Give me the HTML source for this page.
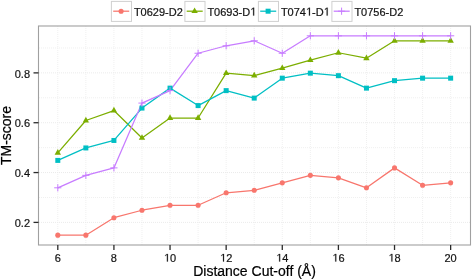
<!DOCTYPE html><html><head><meta charset="utf-8"><style>html,body{margin:0;padding:0;background:#fff;}svg{display:block;filter:blur(0.35px);}text{font-family:"Liberation Sans",sans-serif;stroke:#000;stroke-width:0.2px;}</style></head><body>
<svg width="472" height="280" viewBox="0 0 472 280">
<rect width="472" height="280" fill="#fff"/>
<line x1="85.86" y1="26.0" x2="85.86" y2="245.0" stroke="#f0f0f0" stroke-width="1" stroke-dasharray="1 1"/>
<line x1="141.98" y1="26.0" x2="141.98" y2="245.0" stroke="#f0f0f0" stroke-width="1" stroke-dasharray="1 1"/>
<line x1="198.10" y1="26.0" x2="198.10" y2="245.0" stroke="#f0f0f0" stroke-width="1" stroke-dasharray="1 1"/>
<line x1="254.22" y1="26.0" x2="254.22" y2="245.0" stroke="#f0f0f0" stroke-width="1" stroke-dasharray="1 1"/>
<line x1="310.34" y1="26.0" x2="310.34" y2="245.0" stroke="#f0f0f0" stroke-width="1" stroke-dasharray="1 1"/>
<line x1="366.46" y1="26.0" x2="366.46" y2="245.0" stroke="#f0f0f0" stroke-width="1" stroke-dasharray="1 1"/>
<line x1="422.58" y1="26.0" x2="422.58" y2="245.0" stroke="#f0f0f0" stroke-width="1" stroke-dasharray="1 1"/>
<line x1="39" y1="197.48" x2="470.5" y2="197.48" stroke="#f0f0f0" stroke-width="1" stroke-dasharray="1 1"/>
<line x1="39" y1="147.64" x2="470.5" y2="147.64" stroke="#f0f0f0" stroke-width="1" stroke-dasharray="1 1"/>
<line x1="39" y1="97.80" x2="470.5" y2="97.80" stroke="#f0f0f0" stroke-width="1" stroke-dasharray="1 1"/>
<line x1="39" y1="47.96" x2="470.5" y2="47.96" stroke="#f0f0f0" stroke-width="1" stroke-dasharray="1 1"/>
<line x1="57.80" y1="26.0" x2="57.80" y2="245.0" stroke="#f0f0f0" stroke-width="1" stroke-dasharray="1 1"/>
<line x1="113.92" y1="26.0" x2="113.92" y2="245.0" stroke="#f0f0f0" stroke-width="1" stroke-dasharray="1 1"/>
<line x1="170.04" y1="26.0" x2="170.04" y2="245.0" stroke="#f0f0f0" stroke-width="1" stroke-dasharray="1 1"/>
<line x1="226.16" y1="26.0" x2="226.16" y2="245.0" stroke="#f0f0f0" stroke-width="1" stroke-dasharray="1 1"/>
<line x1="282.28" y1="26.0" x2="282.28" y2="245.0" stroke="#f0f0f0" stroke-width="1" stroke-dasharray="1 1"/>
<line x1="338.40" y1="26.0" x2="338.40" y2="245.0" stroke="#f0f0f0" stroke-width="1" stroke-dasharray="1 1"/>
<line x1="394.52" y1="26.0" x2="394.52" y2="245.0" stroke="#f0f0f0" stroke-width="1" stroke-dasharray="1 1"/>
<line x1="450.64" y1="26.0" x2="450.64" y2="245.0" stroke="#f0f0f0" stroke-width="1" stroke-dasharray="1 1"/>
<line x1="39" y1="222.40" x2="470.5" y2="222.40" stroke="#ebebeb" stroke-width="1" stroke-dasharray="1 1"/>
<line x1="39" y1="172.56" x2="470.5" y2="172.56" stroke="#ebebeb" stroke-width="1" stroke-dasharray="1 1"/>
<line x1="39" y1="122.72" x2="470.5" y2="122.72" stroke="#ebebeb" stroke-width="1" stroke-dasharray="1 1"/>
<line x1="39" y1="72.88" x2="470.5" y2="72.88" stroke="#ebebeb" stroke-width="1" stroke-dasharray="1 1"/>
<polyline points="57.80,235.16 85.86,235.16 113.92,217.72 141.98,210.24 170.04,205.26 198.10,205.26 226.16,192.80 254.22,190.30 282.28,182.83 310.34,175.35 338.40,177.84 366.46,187.81 394.52,167.88 422.58,185.32 450.64,182.83" fill="none" stroke="#F8766D" stroke-width="1.25" stroke-linejoin="round"/>
<polyline points="57.80,152.92 85.86,120.53 113.92,110.56 141.98,137.97 170.04,118.04 198.10,118.04 226.16,73.18 254.22,75.67 282.28,68.20 310.34,60.22 338.40,52.75 366.46,58.23 394.52,40.78 422.58,40.78 450.64,40.78" fill="none" stroke="#7CAE00" stroke-width="1.25" stroke-linejoin="round"/>
<polyline points="57.80,160.40 85.86,147.94 113.92,140.46 141.98,108.07 170.04,88.13 198.10,105.58 226.16,90.62 254.22,98.10 282.28,78.16 310.34,73.18 338.40,75.67 366.46,88.13 394.52,80.66 422.58,78.16 450.64,78.16" fill="none" stroke="#00BFC4" stroke-width="1.25" stroke-linejoin="round"/>
<polyline points="57.80,187.81 85.86,175.35 113.92,167.88 141.98,103.08 170.04,90.62 198.10,53.24 226.16,45.77 254.22,40.78 282.28,53.24 310.34,35.80 338.40,35.80 366.46,35.80 394.52,35.80 422.58,35.80 450.64,35.80" fill="none" stroke="#C77CFF" stroke-width="1.25" stroke-linejoin="round"/>
<circle cx="57.80" cy="235.16" r="2.55" fill="#F8766D"/>
<circle cx="85.86" cy="235.16" r="2.55" fill="#F8766D"/>
<circle cx="113.92" cy="217.72" r="2.55" fill="#F8766D"/>
<circle cx="141.98" cy="210.24" r="2.55" fill="#F8766D"/>
<circle cx="170.04" cy="205.26" r="2.55" fill="#F8766D"/>
<circle cx="198.10" cy="205.26" r="2.55" fill="#F8766D"/>
<circle cx="226.16" cy="192.80" r="2.55" fill="#F8766D"/>
<circle cx="254.22" cy="190.30" r="2.55" fill="#F8766D"/>
<circle cx="282.28" cy="182.83" r="2.55" fill="#F8766D"/>
<circle cx="310.34" cy="175.35" r="2.55" fill="#F8766D"/>
<circle cx="338.40" cy="177.84" r="2.55" fill="#F8766D"/>
<circle cx="366.46" cy="187.81" r="2.55" fill="#F8766D"/>
<circle cx="394.52" cy="167.88" r="2.55" fill="#F8766D"/>
<circle cx="422.58" cy="185.32" r="2.55" fill="#F8766D"/>
<circle cx="450.64" cy="182.83" r="2.55" fill="#F8766D"/>
<path d="M54.60,154.82L61.00,154.82L57.80,149.12Z" fill="#7CAE00"/>
<path d="M82.66,122.43L89.06,122.43L85.86,116.73Z" fill="#7CAE00"/>
<path d="M110.72,112.46L117.12,112.46L113.92,106.76Z" fill="#7CAE00"/>
<path d="M138.78,139.87L145.18,139.87L141.98,134.17Z" fill="#7CAE00"/>
<path d="M166.84,119.94L173.24,119.94L170.04,114.24Z" fill="#7CAE00"/>
<path d="M194.90,119.94L201.30,119.94L198.10,114.24Z" fill="#7CAE00"/>
<path d="M222.96,75.08L229.36,75.08L226.16,69.38Z" fill="#7CAE00"/>
<path d="M251.02,77.57L257.42,77.57L254.22,71.87Z" fill="#7CAE00"/>
<path d="M279.08,70.10L285.48,70.10L282.28,64.40Z" fill="#7CAE00"/>
<path d="M307.14,62.12L313.54,62.12L310.34,56.42Z" fill="#7CAE00"/>
<path d="M335.20,54.65L341.60,54.65L338.40,48.95Z" fill="#7CAE00"/>
<path d="M363.26,60.13L369.66,60.13L366.46,54.43Z" fill="#7CAE00"/>
<path d="M391.32,42.68L397.72,42.68L394.52,36.98Z" fill="#7CAE00"/>
<path d="M419.38,42.68L425.78,42.68L422.58,36.98Z" fill="#7CAE00"/>
<path d="M447.44,42.68L453.84,42.68L450.64,36.98Z" fill="#7CAE00"/>
<rect x="55.30" y="157.90" width="5.00" height="5.00" fill="#00BFC4"/>
<rect x="83.36" y="145.44" width="5.00" height="5.00" fill="#00BFC4"/>
<rect x="111.42" y="137.96" width="5.00" height="5.00" fill="#00BFC4"/>
<rect x="139.48" y="105.57" width="5.00" height="5.00" fill="#00BFC4"/>
<rect x="167.54" y="85.63" width="5.00" height="5.00" fill="#00BFC4"/>
<rect x="195.60" y="103.08" width="5.00" height="5.00" fill="#00BFC4"/>
<rect x="223.66" y="88.12" width="5.00" height="5.00" fill="#00BFC4"/>
<rect x="251.72" y="95.60" width="5.00" height="5.00" fill="#00BFC4"/>
<rect x="279.78" y="75.66" width="5.00" height="5.00" fill="#00BFC4"/>
<rect x="307.84" y="70.68" width="5.00" height="5.00" fill="#00BFC4"/>
<rect x="335.90" y="73.17" width="5.00" height="5.00" fill="#00BFC4"/>
<rect x="363.96" y="85.63" width="5.00" height="5.00" fill="#00BFC4"/>
<rect x="392.02" y="78.16" width="5.00" height="5.00" fill="#00BFC4"/>
<rect x="420.08" y="75.66" width="5.00" height="5.00" fill="#00BFC4"/>
<rect x="448.14" y="75.66" width="5.00" height="5.00" fill="#00BFC4"/>
<path d="M54.20,187.81H61.40M57.80,184.21V191.41" stroke="#C77CFF" stroke-width="1.0" fill="none"/>
<path d="M82.26,175.35H89.46M85.86,171.75V178.95" stroke="#C77CFF" stroke-width="1.0" fill="none"/>
<path d="M110.32,167.88H117.52M113.92,164.28V171.48" stroke="#C77CFF" stroke-width="1.0" fill="none"/>
<path d="M138.38,103.08H145.58M141.98,99.48V106.68" stroke="#C77CFF" stroke-width="1.0" fill="none"/>
<path d="M166.44,90.62H173.64M170.04,87.02V94.22" stroke="#C77CFF" stroke-width="1.0" fill="none"/>
<path d="M194.50,53.24H201.70M198.10,49.64V56.84" stroke="#C77CFF" stroke-width="1.0" fill="none"/>
<path d="M222.56,45.77H229.76M226.16,42.17V49.37" stroke="#C77CFF" stroke-width="1.0" fill="none"/>
<path d="M250.62,40.78H257.82M254.22,37.18V44.38" stroke="#C77CFF" stroke-width="1.0" fill="none"/>
<path d="M278.68,53.24H285.88M282.28,49.64V56.84" stroke="#C77CFF" stroke-width="1.0" fill="none"/>
<path d="M306.74,35.80H313.94M310.34,32.20V39.40" stroke="#C77CFF" stroke-width="1.0" fill="none"/>
<path d="M334.80,35.80H342.00M338.40,32.20V39.40" stroke="#C77CFF" stroke-width="1.0" fill="none"/>
<path d="M362.86,35.80H370.06M366.46,32.20V39.40" stroke="#C77CFF" stroke-width="1.0" fill="none"/>
<path d="M390.92,35.80H398.12M394.52,32.20V39.40" stroke="#C77CFF" stroke-width="1.0" fill="none"/>
<path d="M418.98,35.80H426.18M422.58,32.20V39.40" stroke="#C77CFF" stroke-width="1.0" fill="none"/>
<path d="M447.04,35.80H454.24M450.64,32.20V39.40" stroke="#C77CFF" stroke-width="1.0" fill="none"/>
<rect x="38.5" y="26.0" width="432.0" height="219.0" fill="none" stroke="#a0a0a0" stroke-width="1.1"/>
<line x1="57.80" y1="245.0" x2="57.80" y2="250.0" stroke="#2a2a2a" stroke-width="1.3"/>
<text class="m" x="57.80" y="261.5" font-size="11" text-anchor="middle" fill="#1a1a1a">6</text>
<line x1="113.92" y1="245.0" x2="113.92" y2="250.0" stroke="#2a2a2a" stroke-width="1.3"/>
<text class="m" x="113.92" y="261.5" font-size="11" text-anchor="middle" fill="#1a1a1a">8</text>
<line x1="170.04" y1="245.0" x2="170.04" y2="250.0" stroke="#2a2a2a" stroke-width="1.3"/>
<text class="m" x="170.04" y="261.5" font-size="11" text-anchor="middle" fill="#1a1a1a"><tspan style="fill:none;stroke:none">1</tspan>0</text>
<line x1="226.16" y1="245.0" x2="226.16" y2="250.0" stroke="#2a2a2a" stroke-width="1.3"/>
<text class="m" x="226.16" y="261.5" font-size="11" text-anchor="middle" fill="#1a1a1a"><tspan style="fill:none;stroke:none">1</tspan>2</text>
<line x1="282.28" y1="245.0" x2="282.28" y2="250.0" stroke="#2a2a2a" stroke-width="1.3"/>
<text class="m" x="282.28" y="261.5" font-size="11" text-anchor="middle" fill="#1a1a1a"><tspan style="fill:none;stroke:none">1</tspan>4</text>
<line x1="338.40" y1="245.0" x2="338.40" y2="250.0" stroke="#2a2a2a" stroke-width="1.3"/>
<text class="m" x="338.40" y="261.5" font-size="11" text-anchor="middle" fill="#1a1a1a"><tspan style="fill:none;stroke:none">1</tspan>6</text>
<line x1="394.52" y1="245.0" x2="394.52" y2="250.0" stroke="#2a2a2a" stroke-width="1.3"/>
<text class="m" x="394.52" y="261.5" font-size="11" text-anchor="middle" fill="#1a1a1a"><tspan style="fill:none;stroke:none">1</tspan>8</text>
<line x1="450.64" y1="245.0" x2="450.64" y2="250.0" stroke="#2a2a2a" stroke-width="1.3"/>
<text class="m" x="450.64" y="261.5" font-size="11" text-anchor="middle" fill="#1a1a1a">20</text>
<line x1="33.5" y1="222.40" x2="38.5" y2="222.40" stroke="#2a2a2a" stroke-width="1.3"/>
<text x="30" y="227.10" font-size="11" text-anchor="end" fill="#1a1a1a">0.2</text>
<line x1="33.5" y1="172.56" x2="38.5" y2="172.56" stroke="#2a2a2a" stroke-width="1.3"/>
<text x="30" y="177.26" font-size="11" text-anchor="end" fill="#1a1a1a">0.4</text>
<line x1="33.5" y1="122.72" x2="38.5" y2="122.72" stroke="#2a2a2a" stroke-width="1.3"/>
<text x="30" y="127.42" font-size="11" text-anchor="end" fill="#1a1a1a">0.6</text>
<line x1="33.5" y1="72.88" x2="38.5" y2="72.88" stroke="#2a2a2a" stroke-width="1.3"/>
<text x="30" y="77.58" font-size="11" text-anchor="end" fill="#1a1a1a">0.8</text>
<text x="254.50" y="276" font-size="14" text-anchor="middle" fill="#000">Distance Cut-off (&#197;)</text>
<text transform="translate(10.5,135.5) rotate(-90)" x="0" y="0" font-size="14" text-anchor="middle" fill="#000">TM-score</text>
<rect x="111.40" y="1.4" width="20.1" height="20.0" fill="#fff" stroke="#d0d0d0" stroke-width="1"/>
<line x1="113.20" y1="11.2" x2="129.20" y2="11.2" stroke="#F8766D" stroke-width="1.25"/>
<circle cx="121.10" cy="11.20" r="2.55" fill="#F8766D"/>
<text class="m" x="133.90" y="15.6" font-size="11" fill="#1a1a1a" transform="matrix(1 0 0 1.05 0 -0.780)">T0629-D2</text>
<rect x="184.90" y="1.4" width="20.1" height="20.0" fill="#fff" stroke="#d0d0d0" stroke-width="1"/>
<line x1="186.70" y1="11.2" x2="202.70" y2="11.2" stroke="#7CAE00" stroke-width="1.25"/>
<path d="M191.40,13.10L197.80,13.10L194.60,7.40Z" fill="#7CAE00"/>
<text class="m" x="207.40" y="15.6" font-size="11" fill="#1a1a1a" transform="matrix(1 0 0 1.05 0 -0.780)">T0693-D<tspan style="fill:none;stroke:none">1</tspan></text>
<rect x="258.40" y="1.4" width="20.1" height="20.0" fill="#fff" stroke="#d0d0d0" stroke-width="1"/>
<line x1="260.20" y1="11.2" x2="276.20" y2="11.2" stroke="#00BFC4" stroke-width="1.25"/>
<rect x="265.60" y="8.70" width="5.00" height="5.00" fill="#00BFC4"/>
<text class="m" x="280.90" y="15.6" font-size="11" fill="#1a1a1a" transform="matrix(1 0 0 1.05 0 -0.780)">T074<tspan style="fill:none;stroke:none">1</tspan>-D<tspan style="fill:none;stroke:none">1</tspan></text>
<rect x="331.90" y="1.4" width="20.1" height="20.0" fill="#fff" stroke="#d0d0d0" stroke-width="1"/>
<line x1="333.70" y1="11.2" x2="349.70" y2="11.2" stroke="#C77CFF" stroke-width="1.25"/>
<path d="M338.00,11.20H345.20M341.60,7.60V14.80" stroke="#C77CFF" stroke-width="1.0" fill="none"/>
<text class="m" x="354.40" y="15.6" font-size="11" fill="#1a1a1a" transform="matrix(1 0 0 1.05 0 -0.780)">T0756-D2</text>
<path d="M166.92,261.50L166.92,254.86L165.21,256.08L165.21,255.16L167.00,253.93L167.89,253.93L167.89,261.50Z" fill="#1a1a1a" stroke="#000" stroke-width="0.2"/>
<path d="M223.04,261.50L223.04,254.86L221.33,256.08L221.33,255.16L223.12,253.93L224.01,253.93L224.01,261.50Z" fill="#1a1a1a" stroke="#000" stroke-width="0.2"/>
<path d="M279.16,261.50L279.16,254.86L277.45,256.08L277.45,255.16L279.24,253.93L280.13,253.93L280.13,261.50Z" fill="#1a1a1a" stroke="#000" stroke-width="0.2"/>
<path d="M335.28,261.50L335.28,254.86L333.57,256.08L333.57,255.16L335.36,253.93L336.25,253.93L336.25,261.50Z" fill="#1a1a1a" stroke="#000" stroke-width="0.2"/>
<path d="M391.40,261.50L391.40,254.86L389.69,256.08L389.69,255.16L391.48,253.93L392.37,253.93L392.37,261.50Z" fill="#1a1a1a" stroke="#000" stroke-width="0.2"/>
<path d="M253.17,15.60L253.17,8.62L251.46,9.90L251.46,8.95L253.25,7.65L254.14,7.65L254.14,15.60Z" fill="#1a1a1a" stroke="#000" stroke-width="0.2"/>
<path d="M308.96,15.60L308.96,8.62L307.25,9.90L307.25,8.95L309.04,7.65L309.93,7.65L309.93,15.60Z" fill="#1a1a1a" stroke="#000" stroke-width="0.2"/>
<path d="M326.67,15.60L326.67,8.62L324.96,9.90L324.96,8.95L326.75,7.65L327.64,7.65L327.64,15.60Z" fill="#1a1a1a" stroke="#000" stroke-width="0.2"/>
</svg></body></html>
